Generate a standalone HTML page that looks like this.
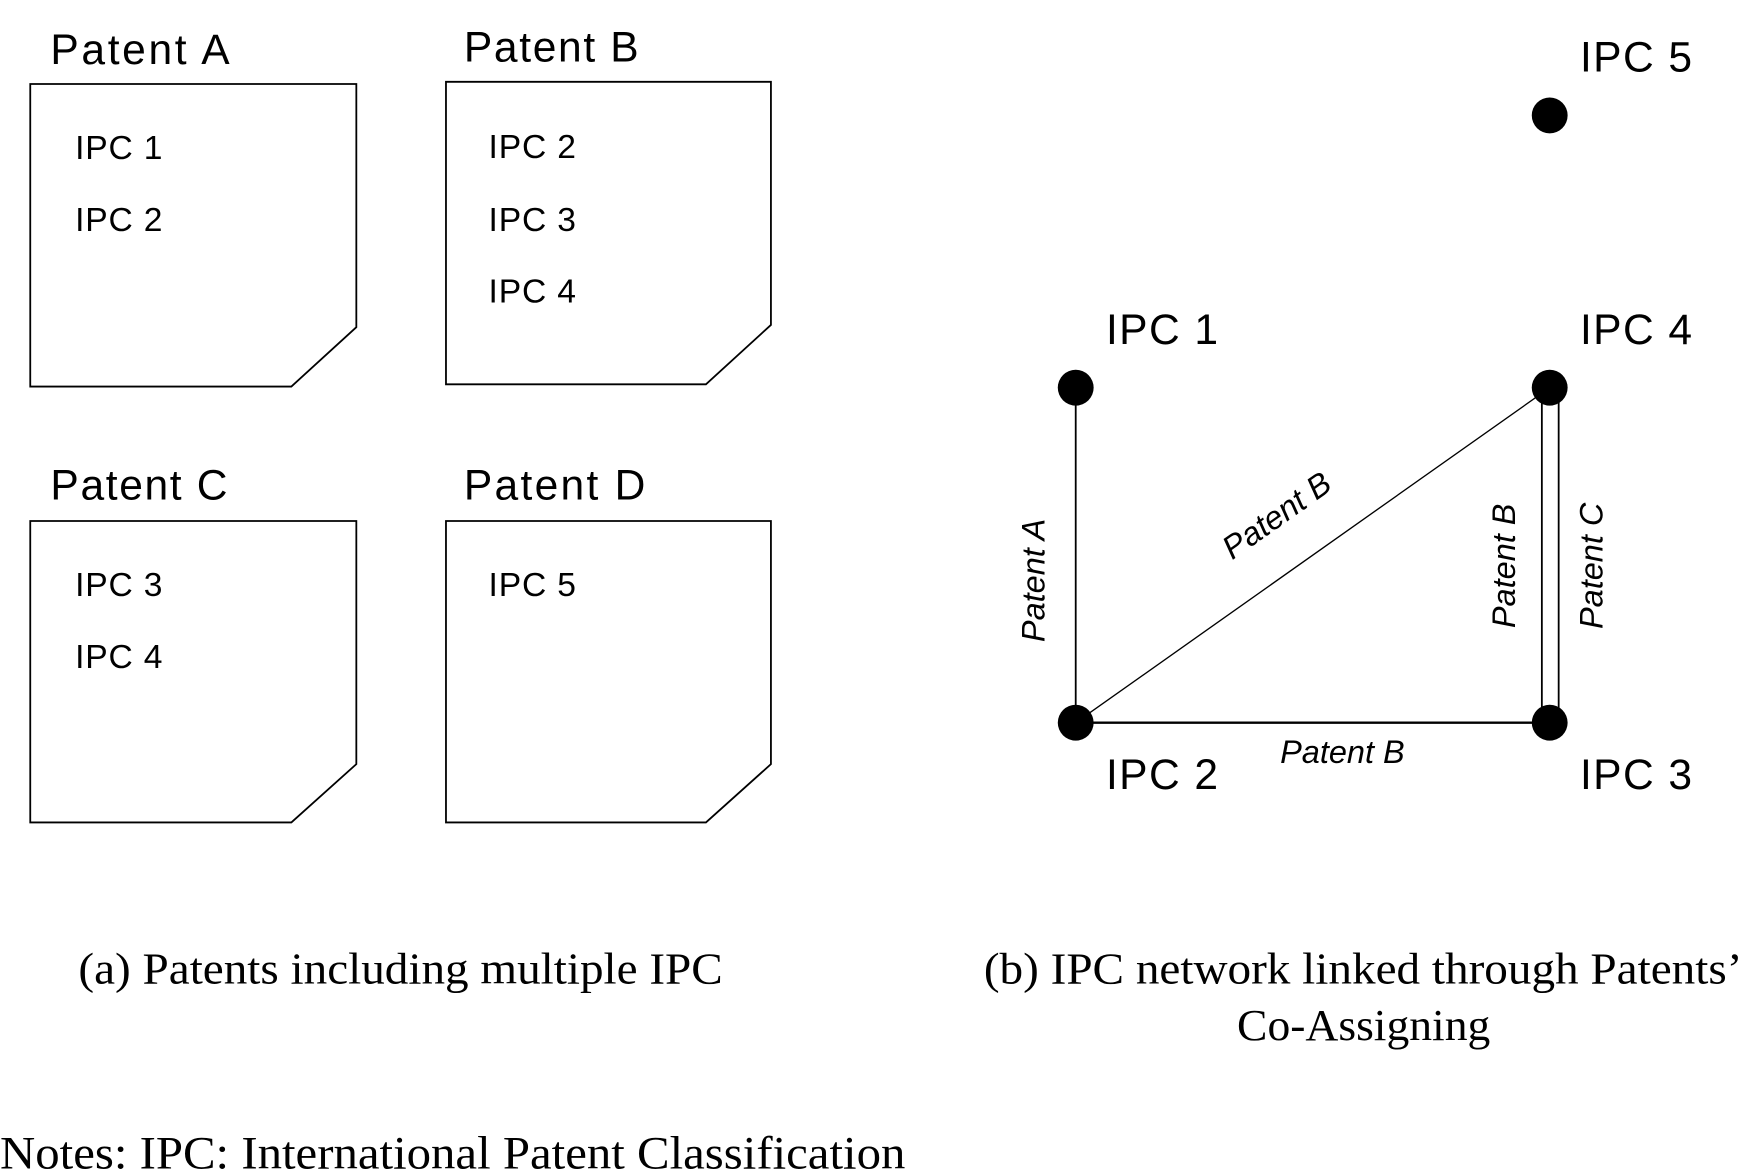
<!DOCTYPE html>
<html><head><meta charset="utf-8"><style>html,body{margin:0;padding:0;background:#fff}svg{display:block}</style></head>
<body>
<svg width="1757" height="1172" viewBox="0 0 1568 1046" preserveAspectRatio="none" xmlns="http://www.w3.org/2000/svg">
<g fill="none" stroke="#000" stroke-width="1.6">
<path d="M27,75 H318 V292 L260,345 H27 Z"/>
<path d="M398,73 H688 V290 L630,343 H398 Z"/>
<path d="M27,465 H318 V682 L260,734 H27 Z"/>
<path d="M398,465 H688 V682 L630,734 H398 Z"/>
<line x1="960" y1="346" x2="960" y2="645"/>
<line x1="960" y1="645" x2="1383" y2="346" stroke-width="1.2"/>
<line x1="960" y1="645" x2="1383" y2="645" stroke-width="2.2"/>
<line x1="1376" y1="346" x2="1376" y2="645"/>
<line x1="1391" y1="346" x2="1391" y2="645"/>
</g>
<g fill="#000">
<circle cx="960" cy="346" r="16"/><circle cx="1383" cy="346" r="16"/>
<circle cx="960" cy="645" r="16"/><circle cx="1383" cy="645" r="16"/>
<circle cx="1383" cy="103" r="16"/>
</g>
<g font-family="'Liberation Sans', sans-serif" fill="#000">
<g font-size="38">
<text x="45" y="57" textLength="160">Patent A</text>
<text x="414" y="55" textLength="156">Patent B</text>
<text x="45" y="446" textLength="158">Patent C</text>
<text x="414" y="446" textLength="162">Patent D</text>
<text x="1410" y="64" textLength="100">IPC 5</text>
<text x="987" y="307" textLength="100">IPC 1</text>
<text x="1410" y="307" textLength="100">IPC 4</text>
<text x="987" y="704" textLength="100">IPC 2</text>
<text x="1410" y="704" textLength="100">IPC 3</text>
</g>
<g font-size="30">
<text x="67" y="142" textLength="78">IPC 1</text>
<text x="67" y="206" textLength="78">IPC 2</text>
<text x="436" y="141" textLength="78">IPC 2</text>
<text x="436" y="206" textLength="78">IPC 3</text>
<text x="436" y="270" textLength="78">IPC 4</text>
<text x="67" y="532" textLength="78">IPC 3</text>
<text x="67" y="596" textLength="78">IPC 4</text>
<text x="436" y="532" textLength="78">IPC 5</text>
</g>
<g font-size="29" font-style="italic" text-anchor="middle">
<text transform="translate(932,518) rotate(-90)">Patent A</text>
<text transform="translate(1145,468) rotate(-35.3)">Patent B</text>
<text transform="translate(1352,505) rotate(-90)">Patent B</text>
<text transform="translate(1430,505) rotate(-90)">Patent C</text>
<text x="1198" y="681">Patent B</text>
</g>
</g>
<g font-family="'Liberation Serif', serif" fill="#000" font-size="40">
<text x="70" y="878" textLength="575" lengthAdjust="spacingAndGlyphs">(a) Patents including multiple IPC</text>
<text x="878" y="878" textLength="677" lengthAdjust="spacingAndGlyphs">(b) IPC network linked through Patents’</text>
<text x="1104" y="928" textLength="226" lengthAdjust="spacingAndGlyphs">Co-Assigning</text>
<text x="0" y="1043" font-size="42" textLength="808" lengthAdjust="spacingAndGlyphs">Notes: IPC: International Patent Classification</text>
</g>
</svg>
</body></html>
